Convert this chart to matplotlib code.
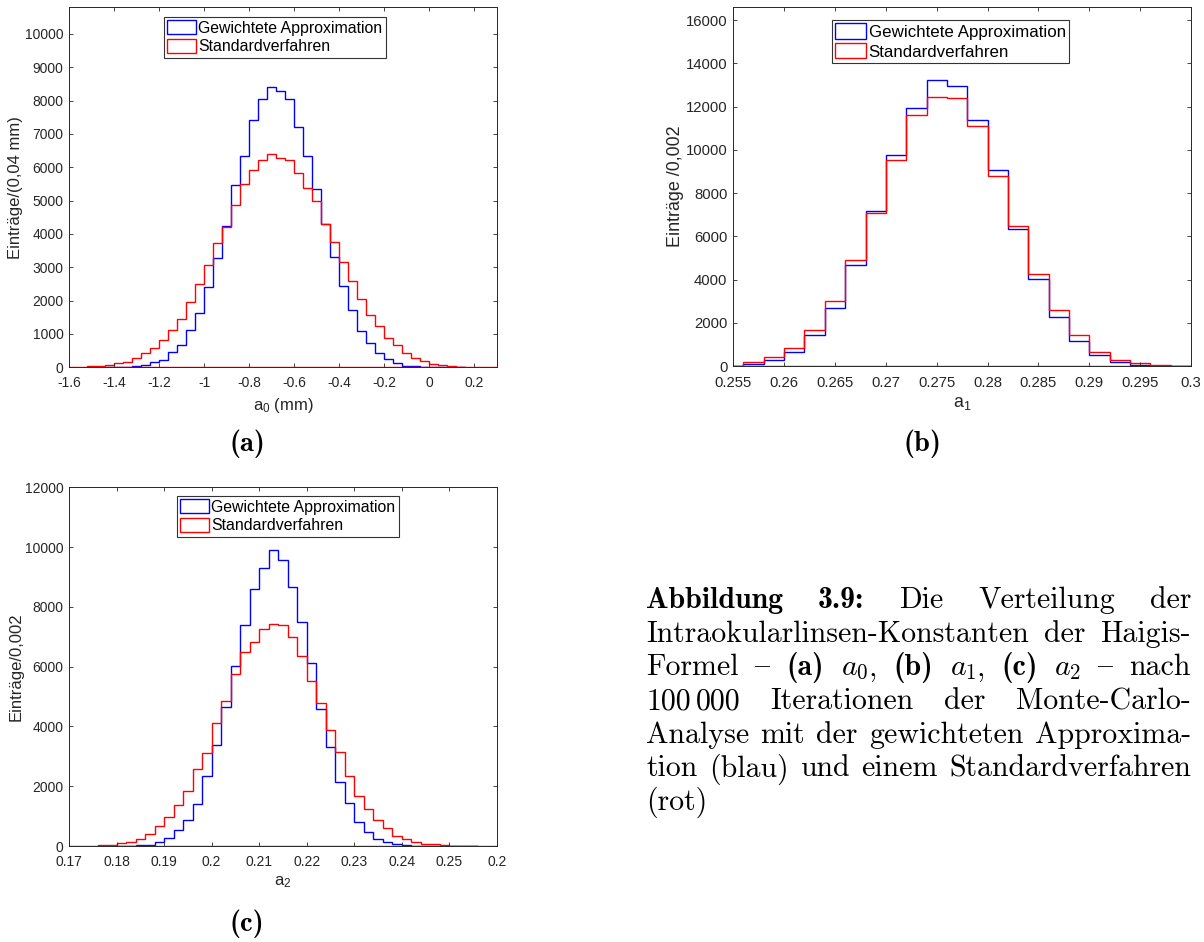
import numpy as np
import matplotlib
matplotlib.use('Agg')
import matplotlib.pyplot as plt
from matplotlib.patches import Patch
from matplotlib.transforms import IdentityTransform

plt.rcParams['font.family'] = 'Liberation Sans'
plt.rcParams['mathtext.fontset'] = 'custom'
plt.rcParams['mathtext.rm'] = 'Liberation Sans'
plt.rcParams['mathtext.it'] = 'Liberation Sans'
plt.rcParams['mathtext.default'] = 'regular'
plt.rcParams['axes.unicode_minus'] = False

# ---- data (counts per bin) ----
a0_start, a0_width = -1.52, 0.04
a0_blue = [5, 5, 10, 10, 20, 30, 60, 150, 210, 450, 670, 1110, 1620, 2410, 3270,
           4230, 5460, 6350, 7410, 8040, 8410, 8290, 8060, 7220, 6330, 5350, 4310,
           3320, 2450, 1730, 1080, 730, 440, 260, 140, 50, 30, 10, 5, 0, 0, 0]
a0_red = [30, 50, 70, 120, 160, 270, 420, 590, 830, 1110, 1440, 1970, 2500, 3080,
          3720, 4210, 4860, 5490, 5910, 6210, 6390, 6280, 6230, 5840, 5370, 5000,
          4310, 3750, 3150, 2590, 2060, 1580, 1230, 870, 660, 430, 280, 180, 90,
          60, 40, 20]

a1_start, a1_width = 0.254, 0.002
a1_blue = [10, 90, 280, 650, 1430, 2680, 4650, 7180, 9750, 11930, 13220, 12930,
           11400, 9050, 6320, 4010, 2250, 1140, 490, 170, 50, 15, 5]
a1_red = [20, 170, 400, 820, 1650, 3000, 4900, 7090, 9540, 11630, 12420, 12390,
          11110, 8780, 6490, 4250, 2570, 1430, 650, 260, 120, 30, 10]

a2_start, a2_width = 0.176, 0.002
a2_blue = [5, 5, 10, 10, 20, 30, 120, 260, 540, 860, 1390, 2340, 3390, 4660, 6020,
           7380, 8600, 9310, 9890, 9570, 8660, 7480, 6120, 4570, 3320, 2150, 1440,
           810, 480, 245, 120, 55, 25, 10, 5, 0, 0, 0, 0, 0]
a2_red = [30, 30, 90, 150, 250, 390, 660, 960, 1370, 1850, 2590, 3120, 4100, 4860,
          5740, 6490, 6820, 7250, 7440, 7390, 6980, 6340, 5510, 4780, 3880, 3130,
          2340, 1660, 1230, 880, 590, 350, 220, 130, 80, 55, 25, 10, 5, 5]

a0_xticks = [-1.6, -1.4, -1.2, -1.0, -0.8, -0.6, -0.4, -0.2, 0.0, 0.2]
a0_xlabels = ['-1.6', '-1.4', '-1.2', '-1', '-0.8', '-0.6', '-0.4', '-0.2', '0', '0.2']
a0_yticks = [0, 1000, 2000, 3000, 4000, 5000, 6000, 7000, 8000, 9000, 10000]

a1_xticks = [0.255, 0.26, 0.265, 0.27, 0.275, 0.28, 0.285, 0.29, 0.295, 0.3]
a1_xlabels = ['0.255', '0.26', '0.265', '0.27', '0.275', '0.28', '0.285', '0.29', '0.295', '0.3']
a1_yticks = [0, 2000, 4000, 6000, 8000, 10000, 12000, 14000, 16000]

a2_xticks = [0.17, 0.18, 0.19, 0.2, 0.21, 0.22, 0.23, 0.24, 0.25, 0.26]
a2_xlabels = ['0.17', '0.18', '0.19', '0.2', '0.21', '0.22', '0.23', '0.24', '0.25', '0.2']
a2_yticks = [0, 2000, 4000, 6000, 8000, 10000, 12000]

legend_labels = ['Gewichtete Approximation', 'Standardverfahren']

W, H = 1204, 942
fig = plt.figure(figsize=(W / 100, H / 100), dpi=100)
px = IdentityTransform()
dark = '#262626'


def panel(rect, start, width, blue, red, xlim, ylim, xt, xl, yt, xlabel, ylabel,
          leg_xy, scale=1.0):
    l, t, r, b = rect
    ax = fig.add_axes([l / W, 1 - b / H, (r - l) / W, (b - t) / H])
    edges = start + width * np.arange(len(blue) + 1)
    ax.stairs(blue, edges, color='#0000ff', lw=1.0)
    ax.stairs(red, edges, color='#ff0000', lw=1.0)
    ax.axhline(0, color='#ff0000', lw=1.0)
    ax.set_xlim(*xlim)
    ax.set_ylim(*ylim)
    ax.set_xticks(xt)
    ax.set_xticklabels(xl)
    ax.set_yticks(yt)
    ax.set_yticklabels([str(v) for v in yt])
    ax.tick_params(direction='in', top=True, right=True, length=3, width=0.6,
                   color=dark, labelcolor=dark, labelsize=10 * scale)
    ax.tick_params(axis='x', pad=6.5 * scale)
    ax.tick_params(axis='y', pad=4 * scale)
    for sp in ax.spines.values():
        sp.set_color(dark)
        sp.set_linewidth(0.7)
    ax.set_xlabel(xlabel, fontsize=12 * scale, color=dark, labelpad=4)
    ax.set_ylabel(ylabel, fontsize=12 * scale, color=dark, labelpad=1)
    fs = 11.4 * scale
    handles = [Patch(facecolor='none', edgecolor='#0000ff', lw=1.0),
               Patch(facecolor='none', edgecolor='#ff0000', lw=1.0)]
    leg = ax.legend(handles, legend_labels, loc='upper left',
                    bbox_to_anchor=(leg_xy[0], H - leg_xy[1]), bbox_transform=px,
                    borderaxespad=0, fontsize=fs, handlelength=1.82,
                    handleheight=1.0, handletextpad=0.15, borderpad=0.2,
                    labelspacing=0.2, fancybox=False, framealpha=1)
    leg.get_frame().set_edgecolor('#333333')
    leg.get_frame().set_linewidth(0.8)
    return ax


panel((69, 7.3, 497, 367.3), a0_start, a0_width, a0_blue, a0_red, (-1.6, 0.3),
      (0, 10800), a0_xticks, a0_xlabels, a0_yticks, 'a$_0$ (mm)',
      'Einträge/(0,04 mm)', (164, 17))
panel((733.3, 7.3, 1191, 366), a1_start, a1_width, a1_blue, a1_red, (0.255, 0.3),
      (0, 16590), a1_xticks, a1_xlabels, a1_yticks, 'a$_1$',
      'Einträge /0,002', (832, 20), scale=1.07)
panel((69, 487.3, 497, 846), a2_start, a2_width, a2_blue, a2_red, (0.17, 0.26),
      (0, 12000), a2_xticks, a2_xlabels, a2_yticks, 'a$_2$',
      'Einträge/0,002', (177, 496))

# ---- sub captions ----
for s, x, y in [('(a)', 247, 444), ('(b)', 923, 444), ('(c)', 247, 924)]:
    fig.text(x, H - y, s, family='cmb10', fontsize=20.5, ha='center',
             va='center', transform=px)

# ---- justified caption ----
cap_size = 21.5
styles = {'rm': dict(family='cmr10'), 'bf': dict(family='cmb10'),
          'mt': dict(math_fontfamily='cm')}
caption = [
    [[('Abbildung', 'bf')], [('3.9:', 'bf')], [('Die', 'rm')], [('Verteilung', 'rm')],
     [('der', 'rm')]],
    [[('Intraokularlinsen-Konstanten', 'rm')], [('der', 'rm')], [('Haigis-', 'rm')]],
    [[('Formel', 'rm')], [('{', 'rm')], [('(a)', 'bf')],
     [(r'$\mathit{a}_{\mathrm{0}}$', 'mt'), (',', 'rm')],
     [('(b)', 'bf')], [(r'$\mathit{a}_{\mathrm{1}}$', 'mt'), (',', 'rm')],
     [('(c)', 'bf')], [(r'$\mathit{a}_{\mathrm{2}}$', 'mt')], [('{', 'rm')],
     [('nach', 'rm')]],
    [[('100', 'rm'), ('', 'gap'), ('000', 'rm')], [('Iterationen', 'rm')],
     [('der', 'rm')], [('Monte-Carlo-', 'rm')]],
    [[('Analyse', 'rm')], [('mit', 'rm')], [('der', 'rm')], [('gewichteten', 'rm')],
     [('Approxima-', 'rm')]],
    [[('tion', 'rm')], [('(blau)', 'rm')], [('und', 'rm')], [('einem', 'rm')],
     [('Standardverfahren', 'rm')]],
    [[('(rot)', 'rm')]],
]
cap_left, cap_right, base0, line_step = 646, 1191, 608, 33.7
em = cap_size * 100 / 72
renderer = fig.canvas.get_renderer()


def seg_w(s, st):
    if st == 'gap':
        return 0.17 * em
    t = fig.text(0, 0, s, fontsize=cap_size, transform=px, **styles[st])
    w = t.get_window_extent(renderer).width
    t.remove()
    return w


for i, words in enumerate(caption):
    widths = [sum(seg_w(s, st) for s, st in wd) for wd in words]
    if i < len(caption) - 1 and len(words) > 1:
        gap = (cap_right - cap_left - sum(widths)) / (len(words) - 1)
    else:
        gap = 0.333 * em
    x = cap_left
    y = H - (base0 + i * line_step)
    for wd, w in zip(words, widths):
        xx = x
        for s, st in wd:
            if st != 'gap':
                fig.text(xx, y, s, fontsize=cap_size, va='baseline',
                         transform=px, **styles[st])
            xx += seg_w(s, st)
        x += w + gap

fig.savefig('out.png', dpi=100)
